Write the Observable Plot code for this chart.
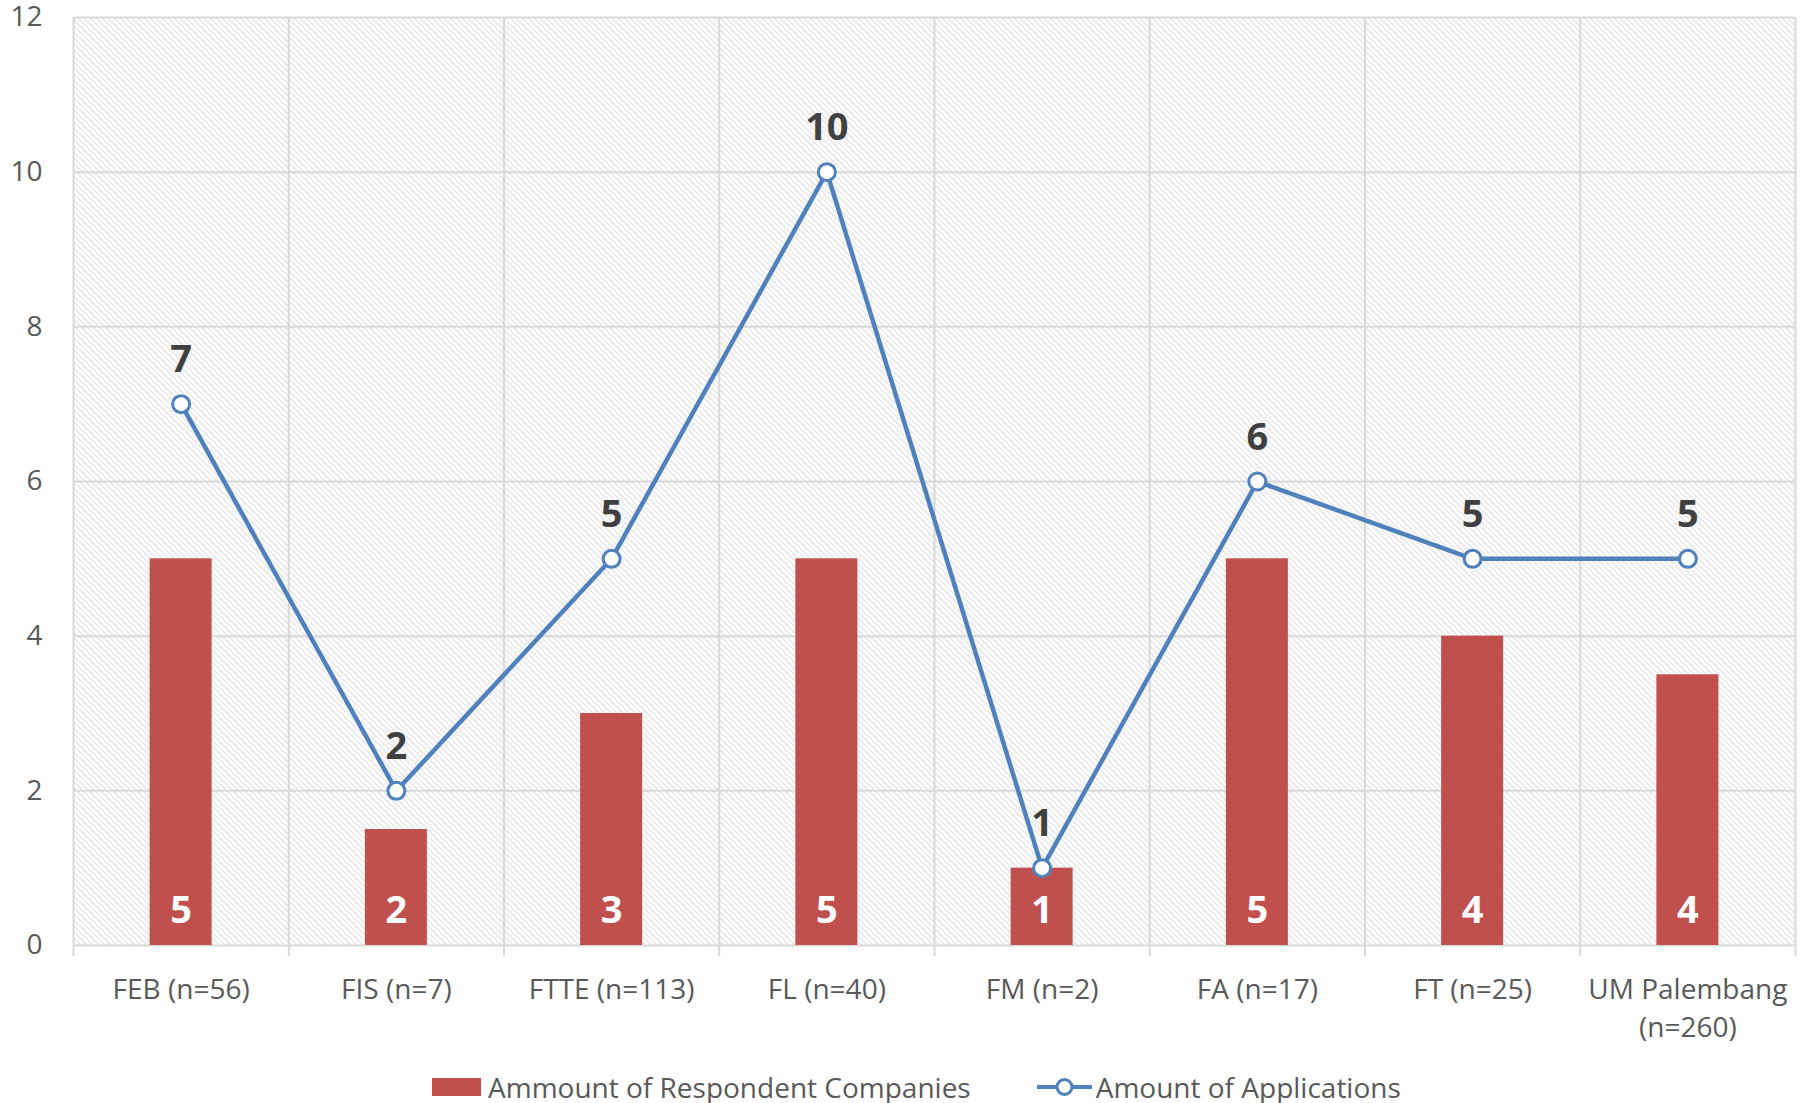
<!DOCTYPE html>
<html>
<head>
<meta charset="utf-8">
<script src="https://cdn.jsdelivr.net/npm/d3@7"></script>
<script src="https://cdn.jsdelivr.net/npm/@observablehq/plot@0.6"></script>
<style>
  html, body { margin: 0; padding: 0; background: #fff; }
  body { position: relative; width: 1806px; height: 1103px; overflow: hidden; font-family: "Open Sans", sans-serif; }
  #chart svg { overflow: visible; }
  #legend { position: absolute; top: 1067px; left: 432px; display: flex; align-items: center; font-size: 28px; color: #595959; line-height: 40px; white-space: nowrap; }
  .item { display: flex; align-items: center; }
  .sw { width: 49px; height: 18px; background: #C0504D; margin-right: 7px; }
</style>
</head>
<body>
<svg width="0" height="0" style="position:absolute">
  <defs>
    <pattern id="hatch" patternUnits="userSpaceOnUse" width="6" height="6">
      <rect width="6" height="6" fill="#ffffff"/>
      <path d="M-1,-1 L7,7 M-1,5 L1,7 M5,-1 L7,1" stroke="#e6e6e6" stroke-width="1.6"/>
    </pattern>
  </defs>
</svg>
<div id="chart"></div>
<div id="legend">
  <div class="item"><div class="sw"></div><span>Ammount of Respondent Companies</span></div>
  <div class="item" style="margin-left:66px">
    <svg width="55" height="22" style="margin-right:4px"><line x1="0" y1="11" x2="55" y2="11" stroke="#4F81BD" stroke-width="4"/><circle cx="27.5" cy="11" r="7.5" fill="#fff" stroke="#4F81BD" stroke-width="3"/></svg>
    <span>Amount of Applications</span>
  </div>
</div>
<script>
const categories = ["FEB (n=56)", "FIS (n=7)", "FTTE (n=113)", "FL (n=40)", "FM (n=2)", "FA (n=17)", "FT (n=25)", "UM Palembang\n(n=260)"];
const respondentHeights = [5, 1.5, 3, 5, 1, 5, 4, 3.5];
const respondentLabels = ["5", "2", "3", "5", "1", "5", "4", "4"];
const applications = [7, 2, 5, 10, 1, 6, 5, 5];
const yTicks = [0, 2, 4, 6, 8, 10, 12];

const idx = categories.map((_, i) => i);
const bounds = [-0.5, ...idx.map(i => i + 0.5)];
const rows = idx.map(i => ({i, cat: categories[i], bar: respondentHeights[i], barLabel: respondentLabels[i], app: applications[i]}));
const half = 0.144;

const chart = Plot.plot({
  width: 1806,
  height: 1050,
  marginLeft: 73,
  marginRight: 11,
  marginTop: 17,
  marginBottom: 105,
  style: {fontFamily: "'Open Sans', sans-serif", background: "transparent"},
  x: {domain: [-0.5, categories.length - 0.5], axis: null, label: null},
  y: {domain: [0, 12], axis: null, label: null},
  marks: [
    Plot.frame({fill: "url(#hatch)", stroke: null}),
    Plot.gridY({ticks: yTicks, stroke: "#d9d9d9", strokeOpacity: 1, strokeWidth: 2}),
    Plot.gridX({ticks: bounds, stroke: "#d9d9d9", strokeOpacity: 1, strokeWidth: 2}),
    Plot.axisX({ticks: bounds, tickSize: 11, text: null, label: null, stroke: "#d9d9d9", strokeWidth: 2}),
    Plot.axisX({ticks: idx, tickSize: 0, tickPadding: 26, label: null, tickFormat: i => categories[i], fontSize: 28, lineHeight: 1.36, fill: "#595959"}),
    Plot.axisY({ticks: yTicks, tickSize: 0, tickPadding: 31, label: null, fontSize: 28, fill: "#595959"}),
    Plot.rectY(rows, {x1: d => d.i - half, x2: d => d.i + half, y1: 0, y2: "bar", fill: "#C0504D"}),
    Plot.text(rows, {x: "i", y: 0, text: "barLabel", dy: -35, lineAnchor: "middle", fill: "#ffffff", fontSize: 38, fontWeight: "bold"}),
    Plot.line(rows, {x: "i", y: "app", stroke: "#4F81BD", strokeWidth: 4.5}),
    Plot.dot(rows, {x: "i", y: "app", r: 8.5, fill: "#ffffff", stroke: "#4F81BD", strokeWidth: 3}),
    Plot.text(rows, {x: "i", y: "app", text: d => String(d.app), dy: -44, lineAnchor: "middle", fill: "#404040", fontSize: 38, fontWeight: "bold"})
  ]
});
document.getElementById("chart").appendChild(chart);
</script>
</body>
</html>
